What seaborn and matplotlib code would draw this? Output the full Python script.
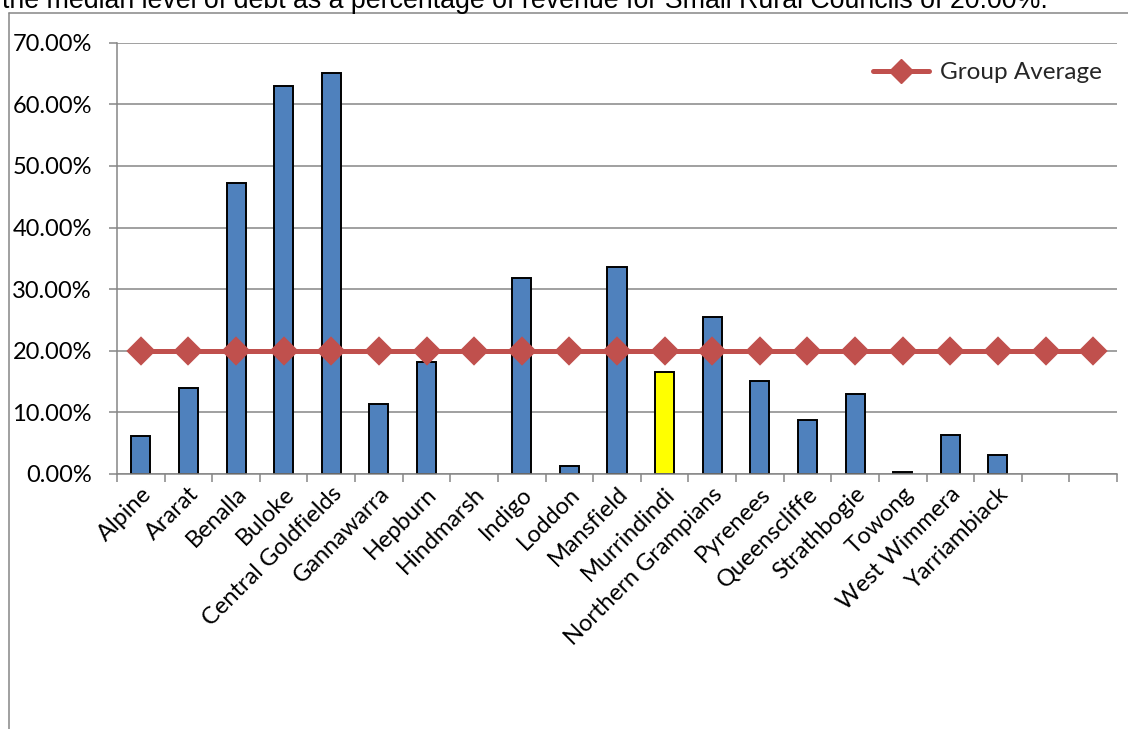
import numpy as np
import pandas as pd
import matplotlib
matplotlib.use("Agg")
import matplotlib.pyplot as plt
import matplotlib.transforms as mtransforms
import seaborn as sns
from matplotlib.ticker import FuncFormatter
from matplotlib.lines import Line2D

# Debt as a percentage of revenue, Small Rural Councils
councils = ["Alpine", "Ararat", "Benalla", "Buloke", "Central Goldfields",
            "Gannawarra", "Hepburn", "Hindmarsh", "Indigo", "Loddon",
            "Mansfield", "Murrindindi", "Northern Grampians", "Pyrenees",
            "Queenscliffe", "Strathbogie", "Towong", "West Wimmera",
            "Yarriambiack", "", " "]
debt_pct = [6.1, 14.0, 47.2, 62.9, 65.1,
            11.4, 18.1, np.nan, 31.8, 1.3,
            33.6, 16.6, 25.4, 15.1,
            8.7, 13.0, 0.3, 6.3,
            3.1, np.nan, np.nan]
group_average = [20.0, 20.0, 20.0, 20.0, 20.0, 20.0, 20.0, 20.0, 20.0, 20.0,
                 20.0, 20.0, 20.0, 20.0, 20.0, 20.0, 20.0, 20.0, 20.0, 20.0,
                 20.0]
highlight = "Murrindindi"
y_ticks = [0, 10, 20, 30, 40, 50, 60, 70]
caption = ("the median level of debt as a percentage of revenue for Small "
           "Rural Councils of 20.00%.")

sns.set_style("white")
plt.rcParams["font.family"] = ["Lato", "DejaVu Sans"]

BLUE = "#4F81BD"
RED = "#C0504D"
GRID = "#868686"

df = pd.DataFrame({"council": councils, "debt": debt_pct, "avg": group_average})
bars = df.dropna(subset=["debt"])
palette = {c: ("#FFFF00" if c == highlight else BLUE) for c in councils}

W, H = 1128, 729
fig = plt.figure(figsize=(W / 100, H / 100), dpi=100)
ax = fig.add_axes([117 / W, 255 / H, 1000 / W, 431.3 / H])

sns.barplot(data=bars, x="council", y="debt", hue="council", order=councils,
            hue_order=councils, palette=palette, saturation=1, dodge=False,
            width=0.4, edgecolor="black", linewidth=1.4, legend=False, ax=ax,
            zorder=2)
sns.pointplot(data=df, x="council", y="avg", order=councils, color=RED,
              markers="D", markersize=12, linewidth=3.6, errorbar=None,
              ax=ax)
for ln in ax.lines:
    ln.set_zorder(3)

ax.set_xlim(-0.5, len(councils) - 0.5)
ax.set_ylim(0, 70)
ax.set_yticks(y_ticks)
ax.yaxis.set_major_formatter(FuncFormatter(lambda v, p: f"{v:.2f}%"))
ax.set_xlabel("")
ax.set_ylabel("")

ax.set_axisbelow(True)
ax.yaxis.grid(True, color=GRID, linewidth=1.1)
ax.xaxis.grid(False)
for side in ("top", "right"):
    ax.spines[side].set_visible(False)
for side in ("left", "bottom"):
    ax.spines[side].set_color(GRID)
    ax.spines[side].set_linewidth(1.1)

ax.set_xticks(np.arange(-0.5, len(councils), 1.0), minor=True)
ax.tick_params(axis="x", which="major", length=0, pad=12, labelsize=17,
               labelcolor="black")
ax.tick_params(axis="x", which="minor", length=6, width=1.1, color=GRID,
               direction="out", bottom=True)
ax.tick_params(axis="y", which="major", length=6, width=1.1, color=GRID,
               direction="out", pad=12, labelsize=17, labelcolor="black",
               left=True)
shift = mtransforms.ScaledTranslation(7 / 100, 0, fig.dpi_scale_trans)
for lab in ax.get_xticklabels():
    lab.set_rotation(45)
    lab.set_ha("right")
    lab.set_va("center")
    lab.set_rotation_mode("anchor")
    lab.set_transform(lab.get_transform() + shift)

handle = Line2D([], [], color=RED, marker="D", markersize=12, linewidth=3.6)
ax.legend([handle], ["Group Average"], loc="center right",
          bbox_to_anchor=((1102 - 117) / 1000, 1 - (73 - 43) / 431.3),
          frameon=False, fontsize=17.5, borderaxespad=0, borderpad=0,
          handlelength=2.3, handletextpad=0.45)

# enclosing chart frame (left and top edges)
fx, fy = 8.5 / W, 1 - 13 / H
fig.add_artist(Line2D([fx, fx], [-0.01, fy], transform=fig.transFigure,
                      color=GRID, linewidth=1.1))
fig.add_artist(Line2D([fx, 1.01], [fy, fy], transform=fig.transFigure,
                      color=GRID, linewidth=1.1))

fig.text(2 / W, 1 - 7.5 / H, caption, fontsize=19.3,
         family=["Liberation Sans", "DejaVu Sans"], va="baseline",
         ha="left", color="black")

fig.savefig("out.png", dpi=100)
